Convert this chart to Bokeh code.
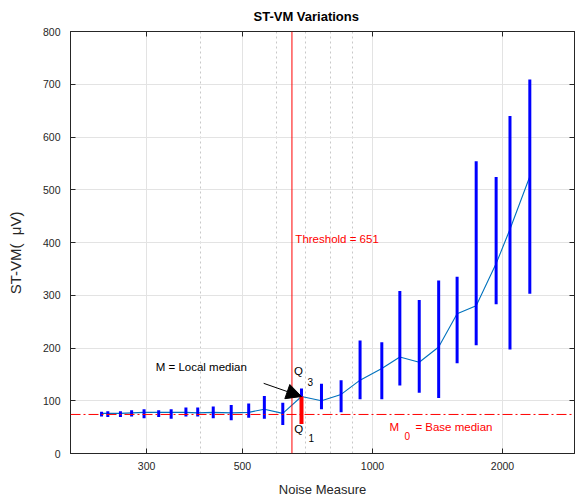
from bokeh.plotting import figure
from bokeh.models import (Range1d, FixedTicker, LinearAxis, LogAxis, Span, Label,
                          Arrow, NormalHead, ColumnDataSource)
from bokeh.embed import file_html
from bokeh.resources import INLINE

# ---- data ----
noise = [236, 244, 261, 277, 296, 320, 342, 370, 394, 428, 471, 517, 562, 620,
         685, 762, 846, 936, 1051, 1157, 1283, 1423, 1570, 1738, 1933, 2081, 2313]
q3 = [79, 80, 80, 82, 84, 82, 84, 87, 87, 89, 92, 95, 109, 96,
      123, 132, 139, 214, 211, 308, 291, 328, 335, 554, 524, 640, 709]
median = [76, 76, 76, 77, 78, 78, 78, 78, 77, 78, 77, 78, 84, 76,
          108, 100, 112, 139, 161, 183, 173, 202, 265, 280, 360, 425, 525]
q1 = [70, 69, 69, 70, 67, 69, 66, 70, 70, 67, 63, 68, 66, 54,
      56, 84, 78, 103, 103, 129, 115, 105, 171, 205, 283, 197, 303]
threshold = 651
base_median = 74
local_index = 14
x_ticks = [300, 500, 1000, 2000]
x_minor = [400, 600, 700, 800, 900]
y_ticks = [0, 100, 200, 300, 400, 500, 600, 700, 800]

FONT = "Liberation Sans"
AX = "#262626"

src = ColumnDataSource(dict(noise=noise, q1=q1, q3=q3, median=median))
loc = ColumnDataSource(dict(x=[noise[local_index]], y0=[q1[local_index]],
                            y1=[median[local_index]]))

p = figure(width=575, height=499, x_axis_type="log",
           x_range=Range1d(200, 2935), y_range=Range1d(0, 800),
           output_backend="svg", toolbar_location=None,
           min_border_left=70, min_border_right=1,
           min_border_top=31, min_border_bottom=46)

p.title.text = "ST-VM Variations"
p.title.text_font = FONT
p.title.text_font_size = "13px"
p.title.text_font_style = "bold"
p.title.text_color = "#000000"
p.title.align = "left"
p.title.offset = 183
p.title.standoff = 8

xt = FixedTicker(ticks=x_ticks, minor_ticks=x_minor)
yt = FixedTicker(ticks=y_ticks)

for ax in (p.xaxis[0], p.yaxis[0]):
    ax.axis_line_color = AX
    ax.major_tick_line_color = AX
    ax.major_tick_in = 5
    ax.major_tick_out = 0
    ax.minor_tick_line_color = None
    ax.major_label_text_font = FONT
    ax.major_label_text_font_size = "10.5px"
    ax.major_label_text_color = AX
    ax.axis_label_text_font = FONT
    ax.axis_label_text_font_size = "13px"
    ax.axis_label_text_font_style = "normal"
    ax.axis_label_text_color = AX

p.xaxis.ticker = xt
p.xaxis.major_label_overrides = {v: str(v) for v in x_ticks}
p.xaxis.major_label_standoff = 4
p.xaxis.axis_label = "Noise Measure"
p.xaxis.axis_label_standoff = 9

p.yaxis.ticker = yt
p.yaxis.major_label_standoff = 10
p.yaxis.axis_label = "ST-VM(\u00a0\u00a0\u03bcV)" + "\u00a0" * 5
p.yaxis.axis_label_text_font_size = "15px"
p.yaxis.axis_label_standoff = 16

top = LogAxis(ticker=xt)
right = LinearAxis(ticker=yt)
for ax in (top, right):
    ax.axis_line_color = AX
    ax.major_tick_line_color = AX
    ax.major_tick_in = 5
    ax.major_tick_out = 0
    ax.minor_tick_line_color = None
    ax.major_label_text_font_size = "0px"
    ax.major_label_text_alpha = 0
    ax.major_label_standoff = 0
p.add_layout(top, "above")
p.add_layout(right, "right")

p.xgrid.ticker = xt
p.xgrid.grid_line_color = "#e3e3e3"
p.xgrid.minor_grid_line_color = "#c8c8c8"
p.xgrid.minor_grid_line_dash = "2 3"
p.ygrid.ticker = yt
p.ygrid.grid_line_color = "#e3e3e3"
p.outline_line_color = AX
p.background_fill_color = "white"
p.border_fill_color = "white"

# base median and threshold
p.add_layout(Span(location=base_median, dimension="width", line_color="#ff0000",
                  line_width=1, line_dash="10 3 2 3"))
p.add_layout(Span(location=threshold, dimension="height", line_color="#ff0000",
                  line_width=1))

# median line and quartile bars
p.line("noise", "median", source=src, line_color="#0072BD", line_width=1.1)
p.segment(x0="noise", y0="q1", x1="noise", y1="q3", source=src,
          line_color="#0000ff", line_width=3)
p.segment(x0="x", y0="y0", x1="x", y1="y1", source=loc,
          line_color="#ff0000", line_width=4)

# arrow to local median
p.add_layout(Arrow(end=NormalHead(size=15, fill_color="black", line_color="black"),
                   x_start=560, y_start=133,
                   x_end=noise[local_index], y_end=median[local_index],
                   line_color="black", line_width=1))


def lab(x, y, text, color="black", size="11.5px"):
    p.add_layout(Label(x=x, y=y, text=text, text_font=FONT, text_font_size=size,
                       text_color=color, text_baseline="middle", text_align="left"))


lab(315, 164, "M = Local median")
lab(663, 406, "Threshold = 651", color="#ff0000")
lab(658, 156, "Q")
lab(707, 135, "3", size="10px")
lab(659, 47, "Q")
lab(711, 29, "1", size="10px")
lab(1095, 50, "M", color="#ff0000")
lab(1186, 33, "0", color="#ff0000", size="10px")
lab(1257, 50, "= Base median", color="#ff0000")

open("out.html", "w").write(file_html(p, INLINE))
